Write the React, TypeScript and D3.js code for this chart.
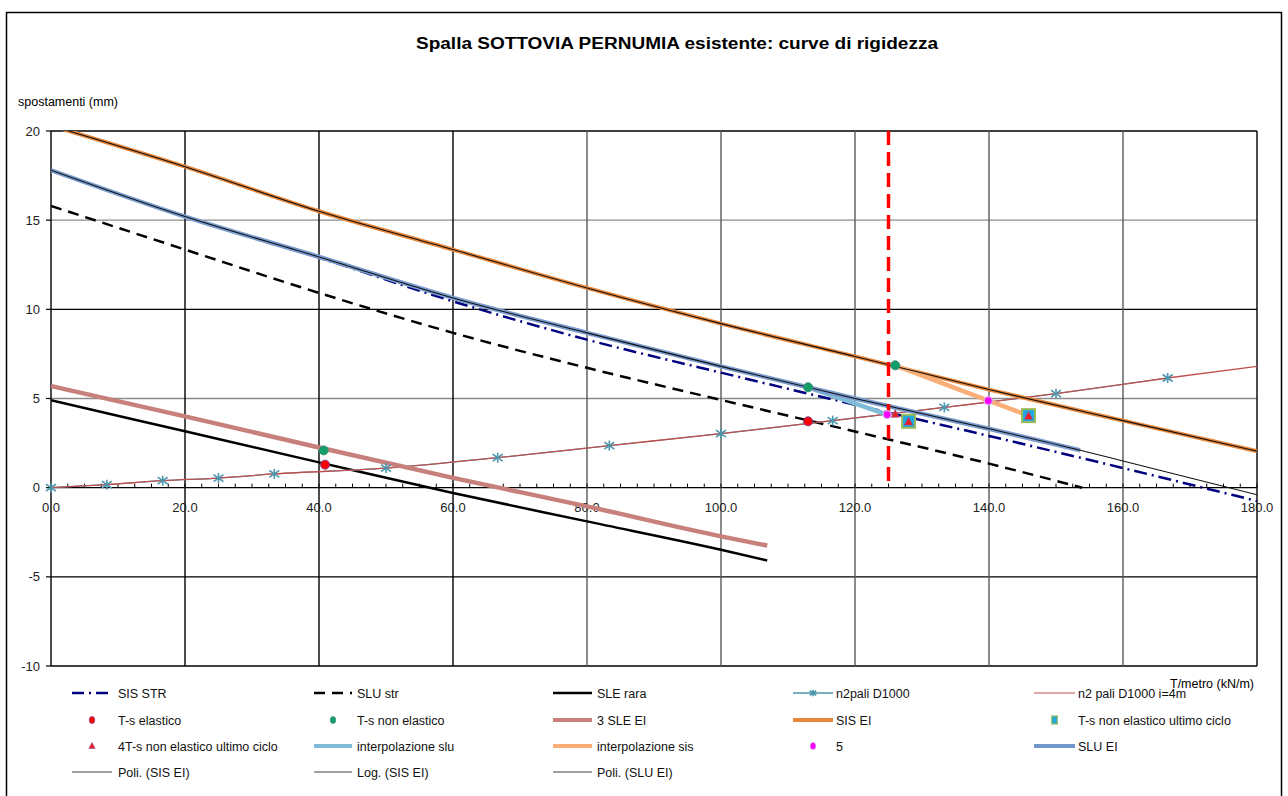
import React from 'react';
import * as d3 from 'd3';

// ---------- data ----------
const xTickValues = [0, 20, 40, 60, 80, 100, 120, 140, 160, 180];
const yTickValues = [-10, -5, 0, 5, 10, 15, 20];

const sisStrX = [0, 20, 40, 60, 80, 100, 120, 140, 160, 180];
const sisStrY = [17.8, 15.2, 12.9, 10.45, 8.3, 6.45, 4.65, 2.9, 1.1, -0.75];

const sluStrX = [0, 20, 40, 60, 80, 100, 120, 140, 153.9];
const sluStrY = [15.8, 13.35, 10.92, 8.68, 6.72, 4.92, 3.15, 1.35, 0];

const sleRaraX = [0, 20, 40, 60, 80, 100, 106.9];
const sleRaraY = [4.9, 3.16, 1.42, -0.3, -1.89, -3.48, -4.08];

const n2paliX = [0, 8.33, 16.67, 25, 33.33, 50, 66.67, 83.33, 100, 116.67, 133.33, 150, 166.67];
const n2paliY = [0, 0.17, 0.39, 0.54, 0.77, 1.1, 1.68, 2.36, 3.03, 3.76, 4.5, 5.27, 6.15];

const n2pali4mX = [0, 8.33, 16.67, 25, 33.33, 50, 66.67, 83.33, 100, 116.67, 133.33, 150, 166.67, 180];
const n2pali4mY = [0, 0.17, 0.39, 0.54, 0.77, 1.1, 1.68, 2.36, 3.03, 3.76, 4.5, 5.27, 6.15, 6.8];

const tsElasticoX = [40.9, 113.0];
const tsElasticoY = [1.29, 3.72];

const tsNonElasticoX = [40.7, 113.0, 126.0];
const tsNonElasticoY = [2.09, 5.63, 6.86];

const sle3EIX = [0, 20, 40, 60, 80, 100, 106.9];
const sle3EIY = [5.7, 4.0, 2.25, 0.55, -1.05, -2.73, -3.25];

const sisEIX = [0, 20, 40, 60, 80, 100, 120, 140, 160, 180];
const sisEIY = [20.3, 18.0, 15.5, 13.35, 11.2, 9.2, 7.36, 5.5, 3.76, 2.05];

const tsUltimoX = [128.0, 145.9];
const tsUltimoY = [3.72, 4.04];

const t4X = [126.0, 128.0, 145.9];
const t4Y = [4.15, 3.72, 4.04];

const interpSluX = [113.0, 124.8];
const interpSluY = [5.63, 4.1];

const interpSisX = [126.0, 139.9, 145.9];
const interpSisY = [6.86, 4.88, 4.04];

const fiveX = [124.8, 139.9];
const fiveY = [4.1, 4.88];

const sluEIX = [0, 20, 40, 60, 80, 100, 120, 140, 153.6];
const sluEIY = [17.8, 15.2, 12.94, 10.64, 8.68, 6.8, 5.0, 3.3, 2.1];

const poliSluX = [0, 20, 40, 60, 80, 100, 120, 140, 153.6, 160, 180];
const poliSluY = [17.8, 15.2, 12.94, 10.64, 8.68, 6.8, 5.0, 3.3, 2.1, 1.5, -0.4];

const limitX = [125, 125];
const limitY = [20, 0];

const legendLabels = [
  'SIS STR', 'SLU str', 'SLE rara', 'n2pali D1000', 'n2 pali D1000 i=4m',
  'T-s elastico', 'T-s non elastico', '3 SLE EI', 'SIS EI', 'T-s non elastico ultimo ciclo',
  '4T-s non elastico ultimo ciclo', 'interpolazione slu', 'interpolazione sis', '5', 'SLU EI',
  'Poli. (SIS EI)', 'Log. (SIS EI)', 'Poli. (SLU EI)',
];

// ---------- layout ----------
const W = 1288, H = 796;
const FONT = 'Liberation Sans, Arial, sans-serif';
const x = d3.scaleLinear().domain([0, 180]).range([51, 1257]);
const y = d3.scaleLinear().domain([-10, 20]).range([666, 131]);

const zip = (xs: number[], ys: number[]) => xs.map((v, i) => [v, ys[i]] as [number, number]);
const smooth = d3.line<[number, number]>().x(d => x(d[0])).y(d => y(d[1])).curve(d3.curveMonotoneX);
const straight = d3.line<[number, number]>().x(d => x(d[0])).y(d => y(d[1]));

type LegendKind =
  | { t: 'line'; color: string; w: number; dash?: string }
  | { t: 'circle'; fill: string; stroke: string }
  | { t: 'square' }
  | { t: 'tri' }
  | { t: 'star' };

const legendKinds: LegendKind[] = [
  { t: 'line', color: '#000080', w: 2.5, dash: '12,5,2,5' },
  { t: 'line', color: '#000', w: 2.5, dash: '11,7' },
  { t: 'line', color: '#000', w: 2.5 },
  { t: 'star' },
  { t: 'line', color: '#C0504D', w: 1.2 },
  { t: 'circle', fill: '#FF0000', stroke: '#7A3D8F' },
  { t: 'circle', fill: '#129E6A', stroke: '#3E8F78' },
  { t: 'line', color: '#C8807D', w: 4 },
  { t: 'line', color: '#E8873A', w: 4 },
  { t: 'square' },
  { t: 'tri' },
  { t: 'line', color: '#7FBCD8', w: 4 },
  { t: 'line', color: '#F9AE78', w: 4 },
  { t: 'circle', fill: '#FF00FF', stroke: '#C8A0E0' },
  { t: 'line', color: '#7396CC', w: 4 },
  { t: 'line', color: '#404040', w: 1.2 },
  { t: 'line', color: '#404040', w: 1.2 },
  { t: 'line', color: '#404040', w: 1.2 },
];

const colX1 = [72, 314, 553, 793, 1034];
const colX2 = [112, 352, 592, 833, 1075];
const colTX = [118, 357, 597, 836, 1078];
const rowY = [693, 720, 746, 772];

function Star({ cx, cy, s = 5 }: { cx: number; cy: number; s?: number }) {
  return (
    <g stroke="#4A96AD" strokeWidth={1.6}>
      <line x1={cx - s} y1={cy - s * 0.7} x2={cx + s} y2={cy + s * 0.7} />
      <line x1={cx - s} y1={cy + s * 0.7} x2={cx + s} y2={cy - s * 0.7} />
      <line x1={cx} y1={cy - s} x2={cx} y2={cy + s} />
    </g>
  );
}

function Tri({ cx, cy, s = 5 }: { cx: number; cy: number; s?: number }) {
  return (
    <path d={`M${cx},${cy - s}L${cx + s * 0.9},${cy + s * 0.7}L${cx - s * 0.9},${cy + s * 0.7}Z`}
      fill="#E8202A" stroke="#9A4A8A" strokeWidth={0.6} />
  );
}

export default function App() {
  const minorTicks = d3.range(0, 180.01, 2.5);
  return (
    <svg width={W} height={H} style={{ position: 'absolute', left: 0, top: 0, background: '#fff' }}
      fontFamily={FONT}>
      <rect x={0} y={0} width={W} height={H} fill="#fff" />
      <rect x={6.5} y={12.5} width={1275} height={800} fill="none" stroke="#000" strokeWidth={1.5} />

      <text x={677} y={49} textAnchor="middle" fontSize={16} fontWeight="bold" textLength={522}
        lengthAdjust="spacingAndGlyphs">Spalla  SOTTOVIA PERNUMIA esistente: curve di rigidezza</text>
      <text x={18} y={106} fontSize={12.5}>spostamenti (mm)</text>
      <text x={1170} y={688} fontSize={12.5}>T/metro (kN/m)</text>

      <defs>
        <clipPath id="plot">
          <rect x={51} y={131} width={1206} height={535} />
        </clipPath>
      </defs>

      {/* gridlines */}
      {yTickValues.map(v => (
        <line key={'h' + v} x1={x(0)} x2={x(180)} y1={y(v)} y2={y(v)}
          stroke={v === 15 || v === 5 ? '#8c8c8c' : '#000'} strokeWidth={1.4} />
      ))}
      {xTickValues.map(v => (
        <line key={'v' + v} x1={x(v)} x2={x(v)} y1={y(20)} y2={y(-10)}
          stroke={v <= 60 || v === 180 ? '#000' : '#595959'} strokeWidth={1.4} />
      ))}
      {/* y ticks + labels */}
      {yTickValues.map(v => (
        <g key={'yt' + v}>
          <line x1={x(0) - 5} x2={x(0)} y1={y(v)} y2={y(v)} stroke="#000" strokeWidth={1.2} />
          <text x={40} y={y(v) + 4.5} textAnchor="end" fontSize={13} fill="#222">{v}</text>
        </g>
      ))}
      {/* x minor ticks */}
      {minorTicks.map(v => (
        <line key={'mt' + v} x1={x(v)} x2={x(v)} y1={y(0)} y2={y(0) - 4} stroke="#000" strokeWidth={1} />
      ))}
      {xTickValues.map(v => (
        <text key={'xl' + v} x={x(v)} y={y(0) + 24} textAnchor="middle" fontSize={13} fill="#222">
          {d3.format('.1f')(v)}
        </text>
      ))}

      <g clipPath="url(#plot)" fill="none">
        <path d={smooth(zip(sisStrX, sisStrY)) || ''} stroke="#000080" strokeWidth={2.5} strokeDasharray="13,5,2,5" />
        <path d={smooth(zip(sluStrX, sluStrY)) || ''} stroke="#000" strokeWidth={2.5} strokeDasharray="11,7" />
        <path d={smooth(zip(sleRaraX, sleRaraY)) || ''} stroke="#000" strokeWidth={2.5} />
        <path d={smooth(zip(n2paliX, n2paliY)) || ''} stroke="#4A96AD" strokeWidth={1.2} />
        <path d={smooth(zip(n2pali4mX, n2pali4mY)) || ''} stroke="#C0504D" strokeWidth={1.3} />
        <path d={smooth(zip(sle3EIX, sle3EIY)) || ''} stroke="#C8807D" strokeWidth={4.5} />
        <path d={smooth(zip(sisEIX, sisEIY)) || ''} stroke="#E8873A" strokeWidth={4} />
        <path d={straight(zip(interpSluX, interpSluY)) || ''} stroke="#7FBCD8" strokeWidth={4.5} />
        <path d={straight(zip(interpSisX, interpSisY)) || ''} stroke="#F9AE78" strokeWidth={4.5} />
        <path d={smooth(zip(sluEIX, sluEIY)) || ''} stroke="#7A9CD0" strokeWidth={4.5} />
        {/* trendlines */}
        <path d={smooth(zip(sisEIX, sisEIY)) || ''} stroke="#111" strokeWidth={1.1} />
        <path d={smooth(zip(poliSluX, poliSluY)) || ''} stroke="#111" strokeWidth={1.1} />
        {/* limit line */}
        <path d={straight(zip(limitX, limitY)) || ''} stroke="#FF0000" strokeWidth={3.5} strokeDasharray="14,7" />
      </g>

      {/* markers */}
      {zip(n2paliX, n2paliY).map((d, i) => <Star key={'s' + i} cx={x(d[0])} cy={y(d[1])} />)}
      {zip(tsElasticoX, tsElasticoY).map((d, i) => (
        <circle key={'e' + i} cx={x(d[0])} cy={y(d[1])} r={4.5} fill="#FF0000" stroke="#7A3D8F" strokeWidth={1} />
      ))}
      {zip(tsNonElasticoX, tsNonElasticoY).map((d, i) => (
        <circle key={'n' + i} cx={x(d[0])} cy={y(d[1])} r={4.5} fill="#129E6A" stroke="#3E8F78" strokeWidth={1} />
      ))}
      {zip(tsUltimoX, tsUltimoY).map((d, i) => (
        <rect key={'q' + i} x={x(d[0]) - 6.5} y={y(d[1]) - 6.5} width={13} height={13}
          fill="#22A8E0" stroke="#9BBB59" strokeWidth={2} />
      ))}
      {zip(t4X, t4Y).map((d, i) => <Tri key={'t' + i} cx={x(d[0])} cy={y(d[1]) + 0.5} s={4.5} />)}
      {zip(fiveX, fiveY).map((d, i) => (
        <circle key={'f' + i} cx={x(d[0])} cy={y(d[1])} r={4} fill="#FF00FF" stroke="#D8B0EA" strokeWidth={1.2} />
      ))}

      {/* legend */}
      {legendLabels.map((label, i) => {
        const c = i % 5, r = Math.floor(i / 5);
        const k = legendKinds[i];
        const x1 = colX1[c], x2 = colX2[c], cy = rowY[r], mx = (x1 + x2) / 2;
        let sym: React.ReactNode = null;
        if (k.t === 'line') sym = <line x1={x1} x2={x2} y1={cy} y2={cy} stroke={k.color} strokeWidth={k.w} strokeDasharray={k.dash} />;
        else if (k.t === 'circle') sym = <ellipse cx={mx} cy={cy} rx={2.8} ry={3.6} fill={k.fill} stroke={k.stroke} strokeWidth={0.6} />;
        else if (k.t === 'square') sym = <rect x={mx - 2.8} y={cy - 4} width={5.6} height={8} fill="#22A8E0" stroke="#9BBB59" strokeWidth={1.2} />;
        else if (k.t === 'tri') sym = <Tri cx={mx} cy={cy} s={3.5} />;
        else if (k.t === 'star') sym = (
          <g>
            <line x1={x1} x2={x2} y1={cy} y2={cy} stroke="#4A96AD" strokeWidth={1.3} />
            <Star cx={mx} cy={cy} s={3.2} />
          </g>
        );
        return (
          <g key={'lg' + i}>
            {sym}
            <text x={colTX[c]} y={cy + 4.5} fontSize={12.5} fill="#111">{label}</text>
          </g>
        );
      })}
    </svg>
  );
}
